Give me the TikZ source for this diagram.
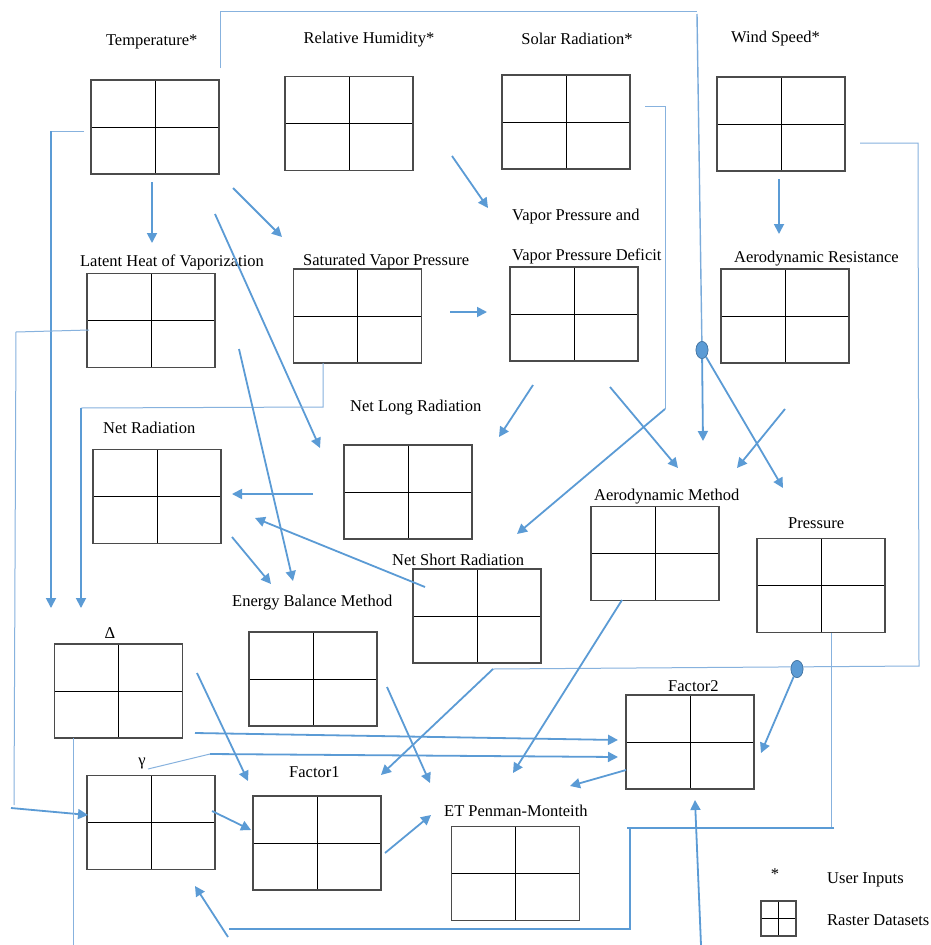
\documentclass[tikz,border=0pt]{standalone}
\usepackage{fontspec}
\setmainfont{Liberation Serif}
\usetikzlibrary{arrows.meta,shapes.geometric}
\definecolor{lblue}{RGB}{91,155,213}
\definecolor{tblue}{RGB}{135,178,222}
\definecolor{bgray}{RGB}{75,75,75}
\begin{document}
\begin{tikzpicture}[x=1pt,y=-1pt,
  raster/.style={draw=bgray, line width=1.2pt, minimum width=128pt, minimum height=94pt, inner sep=0pt,
    path picture={\draw[black,line width=0.9pt]
      (path picture bounding box.north)--(path picture bounding box.south)
      (path picture bounding box.west)--(path picture bounding box.east);}},
  lab/.style={font=\fontsize{16.5}{19}\selectfont, inner sep=0pt, anchor=base},
  labw/.style={lab, anchor=base west},
  arr/.style={draw=lblue, line width=1.8pt, -{Triangle[width=10pt,length=10pt]}},
  thk/.style={draw=lblue, line width=1.8pt},
  thinln/.style={draw=tblue, line width=1pt},
  medln/.style={draw=tblue!70!lblue, line width=1.4pt},
  dot/.style={ellipse, fill=lblue, draw=lblue!75!black, line width=0.6pt, minimum width=12pt, minimum height=17pt, inner sep=0pt}
]
\fill[white] (0,0) rectangle (930,945);
\useasboundingbox (0,0) rectangle (930,945);

% ---------- raster boxes ----------
\node[raster] (T)   at (155,127)   {};
\node[raster] (RH)  at (349,123.5) {};
\node[raster] (SR)  at (566,122)   {};
\node[raster] (WS)  at (781,124)   {};
\node[raster] (LH)  at (151,320.5) {};
\node[raster] (SVP) at (357.5,316) {};
\node[raster] (VPD) at (574,314)   {};
\node[raster] (AR)  at (785,316)   {};
\node[raster] (NR)  at (157,496.5) {};
\node[raster] (NLR) at (408,492)   {};
\node[raster] (NSR) at (477,616)   {};
\node[raster] (AM)  at (655,553.5) {};
\node[raster] (P)   at (821,585.5) {};
\node[raster] (D)   at (118.5,691) {};
\node[raster] (EBM) at (313,679)   {};
\node[raster] (G)   at (151,822.5) {};
\node[raster] (F1)  at (317,843)   {};
\node[raster] (ET)  at (515.5,873.5) {};
\node[raster] (F2)  at (690,742)   {};
\node[raster, minimum width=35pt, minimum height=35pt] (LEG) at (778.5,918.5) {};

% ---------- labels ----------
\node[lab]  (lT)   at (151.7,45.5) {Temperature*};
\node[lab]  (lRH)  at (369,43)     {Relative Humidity*};
\node[lab]  (lSR)  at (577,44)     {Solar Radiation*};
\node[lab]  (lWS)  at (775.5,42.3) {Wind Speed*};
\node[lab]  (lLH)  at (172,266)    {Latent Heat of Vaporization};
\node[labw] (lSVP) at (303,265)    {Saturated Vapor Pressure};
\node[labw] (lVP1) at (512,220)    {Vapor Pressure and};
\node[labw] (lVP2) at (512,260)    {Vapor Pressure Deficit};
\node[labw] (lAR)  at (734,262.3)  {Aerodynamic Resistance};
\node[labw] (lNLR) at (350,411)    {Net Long Radiation};
\node[labw] (lNR)  at (103,433.3)  {Net Radiation};
\node[labw] (lEBM) at (232,606)    {Energy Balance Method};
\node[labw] (lNSR) at (392,565.7)  {Net Short Radiation};
\node[labw] (lAM)  at (594,500.7)  {Aerodynamic Method};
\node[labw] (lP)   at (788,528.7)  {Pressure};
\node[lab]  (lD)   at (110,638.3)  {Δ};
\node[lab]  (lG)   at (142,765.5)  {γ};
\node[labw] (lF1)  at (289,777.7)  {Factor1};
\node[labw] (lET)  at (444,816)    {ET Penman-Monteith};
\node[labw] (lF2)  at (668,691)    {Factor2};
\node[lab]  (lst)  at (775,879)    {*};
\node[labw] (lUI)  at (827,883.3)  {User Inputs};
\node[labw] (lRD)  at (827,925)    {Raster Datasets};

% ---------- junction dots ----------
\node[dot] (e1) at (702,350) {};
\node[dot] (e2) at (797,669) {};

% ---------- coordinates ----------
\coordinate (tTop) at (220,68);   \coordinate (topL) at (220,11);
\coordinate (topR) at (697,11);   \coordinate (vTop) at (697,14);
\coordinate (amIn1) at (703,441); \coordinate (pIn1) at (783,488);
\coordinate (tL) at (84,131);     \coordinate (tLc) at (51,131);  \coordinate (dIn1) at (51,608);
\coordinate (lhA) at (152,182);   \coordinate (lhB) at (152,243);
\coordinate (svA) at (233,188);   \coordinate (svB) at (282,237);
\coordinate (nlA) at (215,214);   \coordinate (nlB) at (320,448);
\coordinate (rhA) at (452,156);   \coordinate (rhB) at (488,208);
\coordinate (svvA) at (450,312);  \coordinate (svvB) at (487,312);
\coordinate (svD) at (323,363);   \coordinate (svDc) at (323,407);
\coordinate (svDl) at (81,408);   \coordinate (dIn2) at (81,608);
\coordinate (lhL) at (89,330);    \coordinate (lhLc) at (16,332);
\coordinate (lhLd) at (14,805);   \coordinate (gA) at (11,808);   \coordinate (gIn) at (88,815);
\coordinate (ebA) at (239,349);   \coordinate (ebB) at (293,581);
\coordinate (nrA) at (232,537);   \coordinate (nrB) at (271,584);
\coordinate (nlrA) at (313,494);  \coordinate (nlrB) at (232,494);
\coordinate (nsA) at (425,587);   \coordinate (nsB) at (255,518);
\coordinate (vpA) at (533,385);   \coordinate (vpB) at (499,437);
\coordinate (vpC) at (610,387);   \coordinate (vpD) at (678,468);
\coordinate (srA) at (645,106);   \coordinate (srB) at (665,106);
\coordinate (srC) at (665,409);   \coordinate (srD) at (517,534);
\coordinate (wsA) at (779,179);   \coordinate (wsB) at (779,234);
\coordinate (wsR) at (860,143);   \coordinate (wsRc) at (918,143);
\coordinate (wsRd) at (919,666);  \coordinate (wsRl) at (493,669);
\coordinate (f1In) at (381,775);  \coordinate (f2In3) at (761,753);
\coordinate (arA) at (785,409);   \coordinate (arB) at (737,468);
\coordinate (amA) at (622,600);   \coordinate (amB) at (513,773);
\coordinate (pD) at (831,633);    \coordinate (pDc) at (831,828);
\coordinate (hR) at (834,828);    \coordinate (hL) at (627,828);
\coordinate (vT) at (630,828);    \coordinate (vB) at (630,929);
\coordinate (bL) at (229,929);
\coordinate (gArA) at (228,937);  \coordinate (gArB) at (195,886);
\coordinate (dD) at (73,738);     \coordinate (dDb) at (73,945);
\coordinate (f2A) at (701,945);   \coordinate (f2B) at (695,800);
\coordinate (dR) at (195,733);    \coordinate (f2In1) at (618,740);
\coordinate (gL) at (148,769);    \coordinate (gLc) at (210,754);  \coordinate (f2In2) at (618,757);
\coordinate (dF1) at (197,673);   \coordinate (f1In1) at (248,781);
\coordinate (gF1) at (212,811);   \coordinate (f1In2) at (251,830);
\coordinate (ebET) at (387,687);  \coordinate (etIn1) at (430,783);
\coordinate (f1ET) at (385,853);  \coordinate (etIn2) at (431,815);
\coordinate (f2ET) at (626,770);  \coordinate (etIn3) at (570,786);

% ---------- connectors ----------
% Temperature -> top route -> junction -> AM, Pressure
\draw[thinln] (tTop) -- (topL) -- (topR);
\draw[medln] (vTop) -- (e1);
\draw[arr] (e1) -- (amIn1);
\draw[arr] (e1) -- (pIn1);
% Temperature -> Delta
\draw[thinln] (tL) -- (tLc);
\draw[arr] (tLc) -- (dIn1);
% Temperature -> others
\draw[arr] (lhA) -- (lhB);
\draw[arr] (svA) -- (svB);
\draw[arr] (nlA) -- (nlB);
% RH -> VPD, SVP -> VPD
\draw[arr] (rhA) -- (rhB);
\draw[arr] (svvA) -- (svvB);
% SVP -> Delta
\draw[thinln] (svD) -- (svDc) -- (svDl);
\draw[arr] (svDl) -- (dIn2);
% Latent -> gamma
\draw[thinln] (lhL) -- (lhLc) -- (lhLd);
\draw[arr] (gA) -- (gIn);
% -> Energy balance
\draw[arr] (ebA) -- (ebB);
\draw[arr] (nrA) -- (nrB);
% -> Net radiation
\draw[arr] (nlrA) -- (nlrB);
\draw[arr] (nsA) -- (nsB);
% VPD -> NLR, AM
\draw[arr] (vpA) -- (vpB);
\draw[arr] (vpC) -- (vpD);
% Solar -> NSR
\draw[thinln] (srA) -- (srB) -- (srC);
\draw[arr] (srC) -- (srD);
% Wind -> AR
\draw[arr] (wsA) -- (wsB);
% Wind -> right route -> Factor1, Factor2
\draw[thinln] (wsR) -- (wsRc) -- (wsRd) -- (wsRl);
\draw[arr] (wsRl) -- (f1In);
% AR -> AM
\draw[arr] (arA) -- (arB);
% AM -> ET
\draw[arr] (amA) -- (amB);
% Pressure -> gamma
\draw[thinln] (pD) -- (pDc);
\draw[thk] (hR) -- (hL);
\draw[thk] (vT) -- (vB) -- (bL);
\draw[arr] (gArA) -- (gArB);
% Delta down, up into Factor2
\draw[thinln] (dD) -- (dDb);
\draw[arr] (f2A) -- (f2B);
% Delta, gamma -> Factor2
\draw[arr] (dR) -- (f2In1);
\draw[thinln] (gL) -- (gLc);
\draw[arr] (gLc) -- (f2In2);
% -> Factor1
\draw[arr] (dF1) -- (f1In1);
\draw[arr] (gF1) -- (f1In2);
% -> ET
\draw[arr] (ebET) -- (etIn1);
\draw[arr] (f1ET) -- (etIn2);
\draw[arr] (f2ET) -- (etIn3);
% junction 2 -> Factor2
\draw[arr] (e2) -- (f2In3);
% redraw dots on top
\node[dot] at (e1) {};
\node[dot] at (e2) {};
\end{tikzpicture}
\end{document}
